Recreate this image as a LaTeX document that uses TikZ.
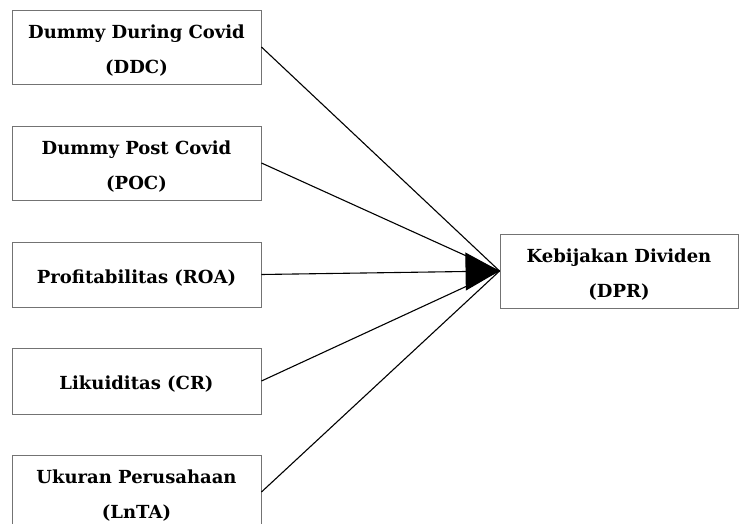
\documentclass[tikz,border=0pt]{standalone}
\usepackage{fontspec}
\setmainfont{DejaVu Serif}
\usetikzlibrary{arrows.meta}
\newcommand{\topstrut}{\rule{0pt}{20pt}}
\begin{document}
\begin{tikzpicture}[x=1pt,y=-1pt,
  box/.style={draw=black!55, line width=0.9pt, rectangle, inner sep=0pt, align=center,
    font=\fontsize{18}{35}\selectfont\bfseries},
  conn/.style={draw=black, line width=1.1pt}]
\useasboundingbox (0,0) rectangle (739,524);
\node[box, minimum width=249pt, minimum height=74pt] (ddc) at (136.5,47) {\topstrut Dummy During Covid\\(DDC)};
\node[box, minimum width=249pt, minimum height=74pt] (poc) at (136.5,163) {\topstrut Dummy Post Covid\\(POC)};
\node[box, minimum width=249pt, minimum height=65pt] (roa) at (136.5,274.5) {\topstrut Profitabilitas (ROA)};
\node[box, minimum width=249pt, minimum height=66pt] (cr) at (136.5,381) {\topstrut Likuiditas (CR)};
\node[box, minimum width=249pt, minimum height=74pt] (lnta) at (136.5,492) {\topstrut Ukuran Perusahaan\\(LnTA)};
\node[box, minimum width=238pt, minimum height=74pt] (dpr) at (619,271) {\topstrut Kebijakan Dividen\\(DPR)};
\draw[conn] (ddc.east) -- (dpr.west);
\draw[conn] (poc.east) -- (dpr.west);
\draw[conn, -{Triangle[length=34pt,width=38pt]}] (roa.east) -- (dpr.west);
\draw[conn] (cr.east) -- (dpr.west);
\draw[conn] (lnta.east) -- (dpr.west);
\end{tikzpicture}
\end{document}
